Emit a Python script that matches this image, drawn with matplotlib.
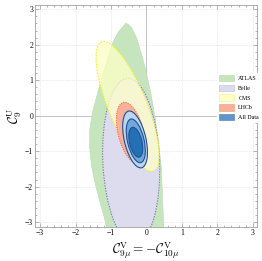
import numpy as np
import matplotlib
matplotlib.use("Agg")
import matplotlib.pyplot as plt
from matplotlib.patches import Ellipse, Polygon, Patch
from matplotlib.ticker import MultipleLocator

plt.rcParams['mathtext.fontset'] = 'cm'
plt.rcParams['font.family'] = ['Liberation Serif', 'DejaVu Serif']

# --- ATLAS region boundary ---
atlas_x = [-0.58, -0.80, -0.95, -1.10, -1.25, -1.40, -1.52, -1.60, -1.60, -1.55,
           -1.45, -1.32, -1.18, -1.10, 0.49, 0.48, 0.45, 0.42, 0.35, 0.25,
           0.13, 0.00, -0.10, -0.28, -0.42, -0.52]
atlas_y = [2.60, 2.35, 2.05, 1.60, 1.10, 0.55, 0.10, -0.40, -0.90, -1.40,
           -1.90, -2.40, -2.90, -3.30, -3.30, -2.90, -2.20, -1.50, -0.80, -0.10,
           0.60, 1.20, 1.60, 2.20, 2.48, 2.58]

# --- elliptical regions: centre, semi-axes, tilt (deg) ---
belle = dict(xc=-0.43, yc=-1.28, a=2.33, b=0.80, ang=92.5)
cms = dict(xc=-0.53, yc=0.26, a=1.96, b=0.545, ang=112)
lhcb = dict(xc=-0.44, yc=-0.48, a=0.88, b=0.36, ang=104)
all_1 = dict(xc=-0.32, yc=-0.67, a=0.82, b=0.305, ang=103)
all_2 = dict(xc=-0.30, yc=-0.71, a=0.63, b=0.235, ang=103)
all_3 = dict(xc=-0.30, yc=-0.75, a=0.43, b=0.175, ang=103)

labels = ["ATLAS", "Belle", "CMS", "LHCb", "All Data"]
colors = ["#c6e5bf", "#dcdcee", "#ffffc6", "#f8b098", "#5f95c8"]

c_atlas, c_belle, c_cms, c_lhcb, c_all = colors
blues = ["#bcd6ef", "#6fa8da", "#2270b5"]


def ell(p, **kw):
    return Ellipse((p['xc'], p['yc']), 2 * p['a'], 2 * p['b'], angle=p['ang'], **kw)


fig = plt.figure(figsize=(2.62, 2.61), dpi=100)
ax = fig.add_axes([0.134, 0.130, 0.847, 0.851])

ax.add_patch(Polygon(np.column_stack([atlas_x, atlas_y]), closed=True,
                     facecolor=c_atlas, edgecolor='#b6dbae', lw=0.4, zorder=2))
# Belle sits under the translucent CMS layer, outline included
ax.add_patch(ell(belle, facecolor=c_belle, edgecolor='#7d7dab', lw=0.8,
                 ls=(0, (1.2, 1.2)), zorder=3))
ax.add_patch(ell(cms, facecolor=c_cms, alpha=0.75, edgecolor='none', zorder=4))
ax.add_patch(ell(cms, facecolor='none', edgecolor='#eeee30', lw=0.8,
                 ls=(0, (1.5, 1.2)), zorder=5))
ax.add_patch(ell(lhcb, facecolor=c_lhcb, edgecolor='#ee6a50', lw=0.7,
                 ls=(0, (1.2, 1.2)), zorder=6))
for p, c in zip([all_1, all_2, all_3], blues):
    ax.add_patch(ell(p, facecolor=c, edgecolor='#234f8f', lw=0.8, zorder=7))

ax.axhline(0, color='#bbbbbb', lw=0.6, zorder=1)
ax.axvline(0, color='#bbbbbb', lw=0.6, zorder=1)
ax.grid(True, color='#d8d8d8', ls=(0, (1, 1.5)), lw=0.5)
ax.set_axisbelow(True)

ax.set_xlim(-3.14, 3.12)
ax.set_ylim(-3.14, 3.12)
ax.xaxis.set_major_locator(MultipleLocator(1))
ax.yaxis.set_major_locator(MultipleLocator(1))
ax.xaxis.set_minor_locator(MultipleLocator(0.2))
ax.yaxis.set_minor_locator(MultipleLocator(0.2))
ax.tick_params(which='both', direction='in', top=True, right=True,
               color='#999999', width=0.5, labelsize=5.5, pad=1.5)
ax.tick_params(which='major', length=3)
ax.tick_params(which='minor', length=1.5)
for s in ax.spines.values():
    s.set_color('#a0a0a0')
    s.set_linewidth(0.6)

ax.set_xlabel(r'$\mathcal{C}_{9\mu}^{\mathrm{V}}=-\mathcal{C}_{10\mu}^{\mathrm{V}}$',
              fontsize=9.5, labelpad=2)
ax.set_ylabel(r'$\mathcal{C}_{9}^{\mathrm{U}}$', fontsize=9.5, labelpad=1)

handles = [Patch(facecolor=c_atlas, edgecolor='#b6dbae', lw=0.4),
           Patch(facecolor=c_belle, edgecolor='#b8b8d8', lw=0.4),
           Patch(facecolor=c_cms, edgecolor='#eeee90', lw=0.4),
           Patch(facecolor=c_lhcb, edgecolor='#f09880', lw=0.4),
           Patch(facecolor=c_all, edgecolor='#4a78b0', lw=0.4)]
leg = ax.legend(handles, labels, loc='center left', bbox_to_anchor=(0.808, 0.583),
                fontsize=4.3, frameon=True, facecolor='white', edgecolor='white',
                framealpha=1, handlelength=2.4, handleheight=1.3, labelspacing=0.55,
                handletextpad=0.8, borderpad=0.3, fancybox=False)
leg.set_zorder(10)

fig.savefig("out.png", dpi=100)
